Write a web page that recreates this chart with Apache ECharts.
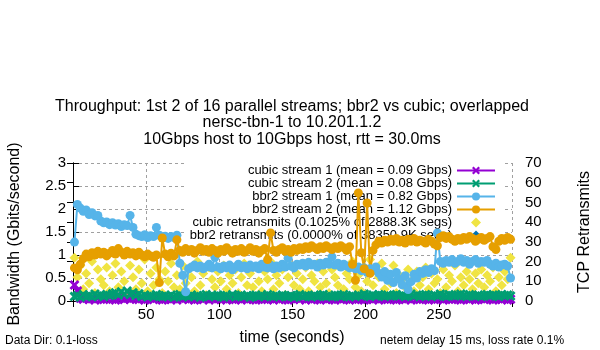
<!DOCTYPE html>
<html>
<head>
<meta charset="utf-8">
<title>bbr2 vs cubic throughput</title>
<script src="https://cdn.jsdelivr.net/npm/echarts@6.0.0/dist/echarts.min.js"></script>
<style>
  html, body { margin: 0; padding: 0; background: #fff; }
  #chart { width: 600px; height: 350px; }
</style>
</head>
<body>
<div id="chart"></div>
<script>
// sample times (seconds), one sample every 2 s
const times = [
  1, 3, 5, 7, 9, 11, 13, 15, 17, 19, 21, 23, 25, 27, 29, 31, 33, 35, 37, 39,
  41, 43, 45, 47, 49, 51, 53, 55, 57, 59, 61, 63, 65, 67, 69, 71, 73, 75, 77, 79,
  81, 83, 85, 87, 89, 91, 93, 95, 97, 99, 101, 103, 105, 107, 109, 111, 113, 115, 117, 119,
  121, 123, 125, 127, 129, 131, 133, 135, 137, 139, 141, 143, 145, 147, 149, 151, 153, 155, 157, 159,
  161, 163, 165, 167, 169, 171, 173, 175, 177, 179, 181, 183, 185, 187, 189, 191, 193, 195, 197, 199,
  201, 203, 205, 207, 209, 211, 213, 215, 217, 219, 221, 223, 225, 227, 229, 231, 233, 235, 237, 239,
  241, 243, 245, 247, 249, 251, 253, 255, 257, 259, 261, 263, 265, 267, 269, 271, 273, 275, 277, 279,
  281, 283, 285, 287, 289, 291, 293, 295, 297, 299
]

// Gbps
const cubic1 = [
  0.35, 0.22, 0.06, 0.04, 0.08, 0.03, 0.05, 0.02, 0.07, 0.04,
  0.03, 0.06, 0.10, 0.04, 0.02, 0.05, 0.08, 0.03, 0.06, 0.04,
  0.12, 0.05, 0.03, 0.07, 0.02, 0.04, 0.06, 0.03, 0.09, 0.05,
  0.02, 0.04, 0.07, 0.03, 0.05, 0.02, 0.06, 0.04, 0.08, 0.03,
  0.05, 0.02, 0.04, 0.07, 0.03, 0.06, 0.02, 0.05, 0.04, 0.08,
  0.03, 0.05, 0.02, 0.06, 0.04, 0.03, 0.07, 0.02, 0.05, 0.04,
  0.06, 0.03, 0.02, 0.05, 0.08, 0.04, 0.03, 0.06, 0.02, 0.05,
  0.04, 0.07, 0.03, 0.02, 0.05, 0.04, 0.06, 0.03, 0.08, 0.02,
  0.05, 0.03, 0.06, 0.04, 0.02, 0.07, 0.03, 0.05, 0.04, 0.02,
  0.06, 0.03, 0.05, 0.08, 0.02, 0.04, 0.03, 0.06, 0.05, 0.02,
  0.04, 0.07, 0.03, 0.05, 0.02, 0.06, 0.04, 0.03, 0.05, 0.08,
  0.02, 0.04, 0.06, 0.03, 0.05, 0.02, 0.07, 0.04, 0.03, 0.05,
  0.06, 0.02, 0.04, 0.03, 0.08, 0.05, 0.02, 0.06, 0.04, 0.03,
  0.05, 0.07, 0.02, 0.04, 0.06, 0.03, 0.05, 0.02, 0.04, 0.06,
  0.03, 0.05, 0.08, 0.02, 0.04, 0.06, 0.03, 0.05, 0.02, 0.04
]
const cubic2 = [
  0.10, 0.12, 0.08, 0.14, 0.10, 0.12, 0.09, 0.15, 0.11, 0.13,
  0.10, 0.14, 0.12, 0.16, 0.18, 0.13, 0.20, 0.15, 0.22, 0.14,
  0.18, 0.12, 0.16, 0.10, 0.13, 0.09, 0.12, 0.10, 0.14, 0.11,
  0.09, 0.12, 0.10, 0.13, 0.08, 0.11, 0.14, 0.10, 0.12, 0.09,
  0.13, 0.10, 0.12, 0.08, 0.11, 0.14, 0.10, 0.12, 0.09, 0.13,
  0.11, 0.08, 0.12, 0.10, 0.14, 0.09, 0.11, 0.13, 0.10, 0.12,
  0.08, 0.11, 0.13, 0.10, 0.12, 0.09, 0.14, 0.11, 0.10, 0.12,
  0.09, 0.13, 0.11, 0.10, 0.12, 0.08, 0.11, 0.14, 0.10, 0.12,
  0.11, 0.09, 0.13, 0.10, 0.12, 0.14, 0.10, 0.11, 0.09, 0.13,
  0.12, 0.10, 0.14, 0.11, 0.09, 0.12, 0.10, 0.13, 0.11, 0.15,
  0.12, 0.10, 0.13, 0.11, 0.14, 0.12, 0.10, 0.13, 0.11, 0.12,
  0.14, 0.11, 0.13, 0.10, 0.12, 0.15, 0.11, 0.13, 0.10, 0.12,
  0.14, 0.12, 0.10, 0.13, 0.11, 0.15, 0.12, 0.10, 0.14, 0.12,
  0.11, 0.13, 0.15, 0.12, 0.10, 0.14, 0.12, 0.11, 0.13, 0.10,
  0.12, 0.14, 0.11, 0.13, 0.12, 0.10, 0.14, 0.12, 0.13, 0.11
]
const bbr1 = [
  1.28, 2.10, 2.02, 1.95, 1.98, 1.88, 1.92, 1.85, 1.86, 1.74,
  1.70, 1.72, 1.66, 1.70, 1.65, 1.68, 1.62, 1.66, 1.64, 1.86,
  1.60, 1.45, 1.42, 1.40, 1.44, 1.38, 1.42, 1.40, 1.60, 1.43,
  1.39, 1.41, 1.36, 1.40, 1.38, 1.43, 0.82, 0.56, 0.20, 0.70,
  0.74, 0.78, 0.72, 0.76, 0.70, 0.74, 0.80, 0.72, 0.95, 0.74,
  0.70, 0.76, 0.72, 0.78, 0.68, 0.74, 0.80, 0.72, 0.76, 0.70,
  0.78, 0.73, 0.76, 0.70, 0.80, 0.74, 0.72, 0.78, 0.70, 0.76,
  0.72, 0.80, 0.74, 0.93, 0.76, 0.72, 0.80, 0.78, 0.82, 0.76,
  0.84, 0.78, 0.80, 0.74, 0.82, 0.78, 0.84, 0.80, 0.96, 0.78,
  0.82, 0.74, 0.80, 0.76, 0.72, 0.78, 0.70, 0.74, 0.66, 0.72,
  0.62, 0.70, 0.66, 0.74, 0.60, 0.52, 0.64, 0.45, 0.58, 0.40,
  0.62, 0.48, 0.35, 0.55, 0.25, 0.42, 0.58, 0.50, 0.64, 0.60,
  0.68, 0.62, 0.70, 0.66, 1.48, 0.86, 0.82, 0.88, 0.84, 0.90,
  0.82, 0.86, 0.92, 0.84, 0.88, 0.80, 0.86, 0.90, 0.82, 0.86,
  0.84, 0.88, 0.80, 0.76, 0.82, 0.74, 0.78, 0.80, 0.76, 0.50
]
const bbr2 = [
  0.72, 0.68, 0.80, 0.92, 1.02, 0.96, 1.05, 1.00, 1.08, 1.02,
  1.06, 0.98, 1.04, 1.10, 1.02, 1.14, 1.06, 1.00, 1.08, 1.02,
  1.05, 0.98, 1.06, 1.00, 0.96, 1.02, 0.98, 0.95, 1.00, 0.40,
  1.37, 1.02, 0.96, 1.04, 0.98, 1.33, 1.10, 1.06, 1.14, 1.08,
  1.12, 1.04, 1.10, 1.16, 1.08, 1.12, 1.06, 1.14, 1.10, 1.04,
  1.12, 1.08, 1.16, 1.10, 1.04, 1.12, 1.08, 1.14, 1.06, 1.10,
  1.16, 1.08, 1.12, 1.04, 1.10, 1.14, 0.90, 1.48, 1.10, 1.06,
  1.12, 1.16, 1.08, 1.12, 1.06, 1.14, 1.10, 1.16, 1.12, 1.18,
  1.14, 1.20, 1.16, 1.12, 1.18, 1.14, 1.20, 1.16, 1.12, 1.18,
  1.14, 1.20, 1.16, 1.10, 1.18, 0.80, 0.45, 2.35, 1.05, 0.70,
  2.13, 0.60, 1.10, 1.22, 1.30, 1.26, 1.32, 1.28, 1.34, 1.30,
  1.36, 1.28, 1.32, 1.26, 1.34, 1.30, 1.36, 1.28, 1.32, 1.30,
  1.26, 1.34, 1.30, 1.24, 1.20, 1.38, 1.42, 1.36, 1.40, 1.34,
  1.30, 1.36, 1.32, 1.38, 1.34, 1.40, 1.36, 1.30, 1.34, 1.38,
  1.32, 1.36, 1.40, 1.18, 1.12, 1.30, 1.36, 1.32, 1.38, 1.34
]

// retransmits per sample (right axis)
const cubicRetrans = [
  22, 12, 18, 6, 14, 9, 20, 4, 16, 11,
  8, 17, 5, 13, 19, 7, 15, 10, 3, 18,
  12, 6, 16, 9, 21, 5, 14, 8, 17, 11,
  4, 15, 10, 19, 7, 13, 6, 18, 9, 16,
  12, 5, 20, 8, 14, 3, 17, 11, 7, 15,
  10, 18, 6, 13, 9, 16, 4, 12, 19, 8,
  14, 7, 17, 10, 5, 15, 11, 20, 6, 13,
  9, 16, 3, 12, 18, 8, 14, 6, 11, 17,
  5, 13, 10, 19, 7, 15, 9, 4, 16, 12,
  8, 18, 6, 14, 11, 20, 7, 13, 5, 17,
  10, 21, 8, 16, 12, 19, 6, 14, 9, 18,
  4, 13, 11, 7, 16, 10, 5, 15, 8, 12,
  17, 6, 14, 9, 11, 4, 16, 7, 13, 10,
  18, 5, 12, 8, 15, 11, 6, 14, 9, 16,
  7, 13, 10, 17, 5, 12, 8, 15, 11, 22
]
const bbr2Retrans = [] // 0.0000% -> nothing plotted

const seriesNames = [
  'cubic stream 1 (mean = 0.09 Gbps)',
  'cubic stream 2 (mean = 0.08 Gbps)',
  'bbr2 stream 1 (mean = 0.82 Gbps)',
  'bbr2 stream 2 (mean = 1.12 Gbps)',
  'cubic retransmits (0.1025% of 2888.3K segs)',
  'bbr2 retransmits (0.0000% of 38350.9K segs)'
]
const titleLines = [
  'Throughput: 1st 2 of 16 parallel streams; bbr2 vs cubic; overlapped',
  'nersc-tbn-1 to 10.201.1.2',
  '10Gbps host to 10Gbps host, rtt = 30.0ms'
]

const FONT = '"Liberation Sans", Arial, sans-serif'
// gnuplot style thick "x" and diamond points
const CROSS = 'path://M0,2L2,0L5,3L8,0L10,2L7,5L10,8L8,10L5,7L2,10L0,8L3,5Z'
const DIAMOND = 'path://M5,0L10,5L5,10L0,5Z'

function pairs(vals) {
  return vals.map((v, i) => [times[i], v])
}

function stream(name, color, symbol, size, vals) {
  return {
    name: name,
    type: 'line',
    data: pairs(vals),
    xAxisIndex: 0,
    yAxisIndex: 0,
    symbol: symbol,
    symbolSize: size,
    showAllSymbol: true,
    itemStyle: { color: color, opacity: 1 },
    lineStyle: { color: color, width: 2 },
    emphasis: { disabled: true }
  }
}

function retrans(name, color, vals) {
  return {
    name: name,
    type: 'scatter',
    data: pairs(vals),
    xAxisIndex: 0,
    yAxisIndex: 1,
    symbol: DIAMOND,
    symbolSize: 10,
    symbolKeepAspect: true,
    itemStyle: { color: color, opacity: 1 },
    emphasis: { disabled: true }
  }
}

const gridLine = { show: true, lineStyle: { color: '#a0a0a0', width: 1, type: [3, 3] } }
const blackLine = { show: true, lineStyle: { color: '#000', width: 1 } }
const tickIn = { show: true, inside: true, length: 6, lineStyle: { color: '#000' } }

const chart = echarts.init(document.getElementById('chart'), null, { renderer: 'canvas' })
chart.setOption({
  animation: false,
  backgroundColor: '#fff',
  textStyle: { fontFamily: FONT },
  grid: { left: 73, right: 88, top: 163, bottom: 49, containLabel: false, outerBoundsMode: 'none' },
  legend: {
    data: seriesNames,
    orient: 'vertical',
    align: 'right',
    right: 96,
    top: 162,
    padding: [2, 8, 2, 4],
    itemGap: 0,
    itemWidth: 38,
    itemHeight: 10,
    backgroundColor: '#fff',
    z: 1,
    selectedMode: false,
    textStyle: { color: '#000', fontSize: 13, lineHeight: 12, fontFamily: FONT, padding: [0, 0, 0, 0] }
  },
  xAxis: [{
    type: 'value',
    min: 0,
    max: 300,
    interval: 50,
    position: 'bottom',
    axisLine: blackLine,
    axisTick: tickIn,
    splitLine: gridLine,
    axisLabel: { color: '#000', fontSize: 15, margin: 6, showMinLabel: false, showMaxLabel: false, fontFamily: FONT }
  }, {
    // top border with mirrored ticks
    type: 'value',
    min: 0,
    max: 300,
    interval: 50,
    position: 'top',
    axisLine: blackLine,
    axisTick: tickIn,
    splitLine: { show: false },
    axisLabel: { show: false }
  }],
  yAxis: [{
    type: 'value',
    min: 0,
    max: 3,
    interval: 0.5,
    position: 'left',
    axisLine: blackLine,
    axisTick: tickIn,
    splitLine: gridLine,
    axisLabel: { color: '#000', fontSize: 15, margin: 7, fontFamily: FONT }
  }, {
    type: 'value',
    min: 0,
    max: 70,
    interval: 10,
    position: 'right',
    axisLine: blackLine,
    axisTick: tickIn,
    splitLine: { show: false },
    axisLabel: { color: '#000', fontSize: 15, margin: 13, fontFamily: FONT }
  }],
  graphic: [
    { type: 'text', x: 292, y: 107, style: { text: titleLines[0], fontSize: 16, fontFamily: FONT, fill: '#000', align: 'center', verticalAlign: 'middle' } },
    { type: 'text', x: 292, y: 123, style: { text: titleLines[1], fontSize: 16, fontFamily: FONT, fill: '#000', align: 'center', verticalAlign: 'middle' } },
    { type: 'text', x: 292, y: 140, style: { text: titleLines[2], fontSize: 16, fontFamily: FONT, fill: '#000', align: 'center', verticalAlign: 'middle' } },
    { type: 'text', x: 15, y: 234, rotation: Math.PI / 2, style: { text: 'Bandwidth (Gbits/second)', fontSize: 16, fontFamily: FONT, fill: '#000', align: 'center', verticalAlign: 'middle' } },
    { type: 'text', x: 585, y: 232, rotation: Math.PI / 2, style: { text: 'TCP Retransmits', fontSize: 16, fontFamily: FONT, fill: '#000', align: 'center', verticalAlign: 'middle' } },
    { type: 'text', x: 292, y: 338, style: { text: 'time (seconds)', fontSize: 16, fontFamily: FONT, fill: '#000', align: 'center', verticalAlign: 'middle' } },
    { type: 'text', x: 5, y: 341, style: { text: 'Data Dir: 0.1-loss', fontSize: 12, fontFamily: FONT, fill: '#000', align: 'left', verticalAlign: 'middle' } },
    { type: 'text', x: 380, y: 341, style: { text: 'netem delay 15 ms, loss rate 0.1%', fontSize: 12, fontFamily: FONT, fill: '#000', align: 'left', verticalAlign: 'middle' } }
  ],
  series: [
    stream(seriesNames[0], '#9400d3', CROSS, 10, cubic1),
    stream(seriesNames[1], '#009e73', CROSS, 10, cubic2),
    stream(seriesNames[2], '#56b4e9', 'circle', 9, bbr1),
    stream(seriesNames[3], '#e69f00', 'circle', 9, bbr2),
    retrans(seriesNames[4], '#f0e442', cubicRetrans),
    retrans(seriesNames[5], '#0072b2', bbr2Retrans)
  ]
})
</script>
</body>
</html>
